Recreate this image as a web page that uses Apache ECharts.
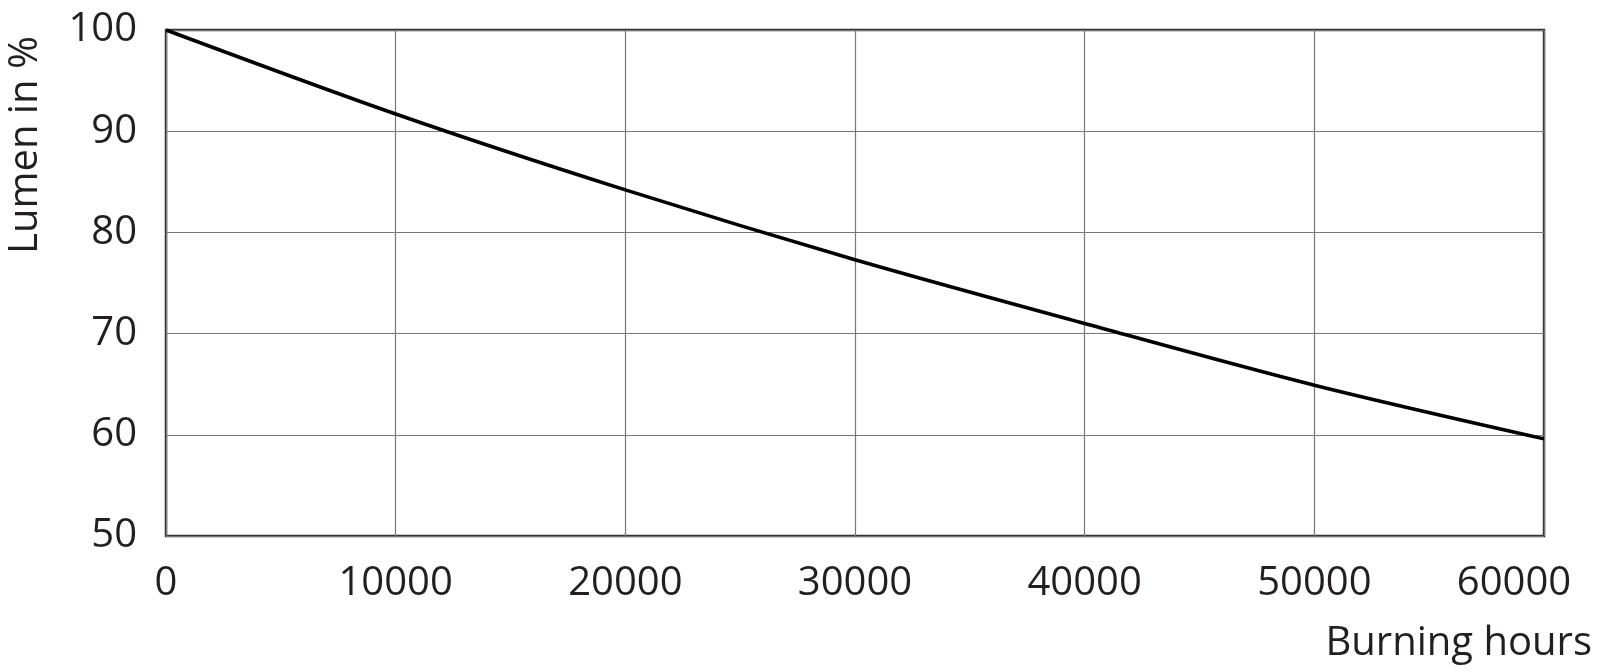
<!DOCTYPE html>
<html>
<head>
<meta charset="utf-8">
<script src="https://cdn.jsdelivr.net/npm/echarts@6/dist/echarts.min.js"></script>
<style>
html,body{margin:0;padding:0;background:#fff;}
#c{width:1600px;height:672px;}
</style>
</head>
<body>
<div id="c"></div>
<script>
const hours = [0, 10000, 20000, 30000, 40000, 50000, 60000];
const lumen = [100, 91.7, 84.2, 77.3, 71.0, 64.9, 59.6];
const xTicks = [0, 10000, 20000, 30000, 40000, 50000, 60000];
const yTicks = [50, 60, 70, 80, 90, 100];
const xName = 'Burning hours';
const yName = 'Lumen in %';

const FONT = '"Open Sans", "Noto Sans", sans-serif';
const TXT = '#231f20';
const FS = 40;

const chart = echarts.init(document.getElementById('c'));
chart.setOption({
  animation: false,
  backgroundColor: '#fff',
  grid: {
    left: 166, right: 56, top: 30, bottom: 136,
    show: true, borderColor: '#333', borderWidth: 2.5, backgroundColor: 'transparent'
  },
  xAxis: {
    type: 'value',
    min: xTicks[0], max: xTicks[xTicks.length - 1], interval: 10000,
    axisLine: { show: false },
    axisTick: { show: false },
    splitLine: { show: true, lineStyle: { color: '#777', width: 1.2 } },
    axisLabel: {
      margin: 28,
      color: TXT, fontFamily: FONT, fontSize: FS,
      formatter: function (v) {
        return v === xTicks[xTicks.length - 1] ? '{last|' + v + '}' : String(v);
      },
      rich: { last: { color: TXT, fontFamily: FONT, fontSize: FS, padding: [0, 60, 0, 0] } }
    }
  },
  yAxis: {
    type: 'value',
    min: yTicks[0], max: yTicks[yTicks.length - 1], interval: 10,
    axisLine: { show: false },
    axisTick: { show: false },
    splitLine: { show: true, lineStyle: { color: '#777', width: 1.2 } },
    axisLabel: { margin: 29, color: TXT, fontFamily: FONT, fontSize: FS, padding: [6, 0, 0, 0] }
  },
  graphic: [
    {
      type: 'text', x: 26, y: 145, rotation: Math.PI / 2,
      style: { text: yName, fill: TXT, font: FS + 'px ' + FONT, align: 'center', verticalAlign: 'middle' }
    },
    {
      type: 'text', x: 1592, y: 644,
      style: { text: xName, fill: TXT, font: FS + 'px ' + FONT, align: 'right', verticalAlign: 'middle' }
    }
  ],
  series: [{
    type: 'line',
    data: hours.map((h, i) => [h, lumen[i]]),
    smooth: 0.3,
    showSymbol: false,
    lineStyle: { color: '#000', width: 3.5 },
    z: 5
  }]
});
</script>
</body>
</html>
